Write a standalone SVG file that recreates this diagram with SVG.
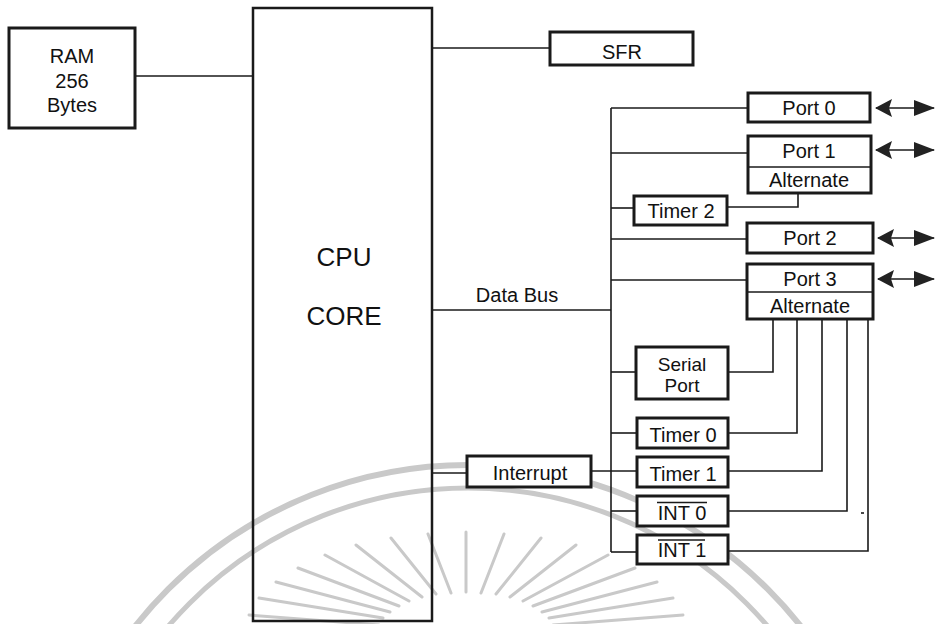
<svg xmlns="http://www.w3.org/2000/svg" width="935" height="624" viewBox="0 0 935 624">
  <style>
    text { font-family: "Liberation Sans", Arial, sans-serif; font-size: 20px; fill: #111; text-anchor: middle; }
    .big { font-size: 26px; }
    .tight { font-size: 19px; }
    .box { fill: #fff; stroke: #1a1a1a; stroke-width: 3; }
    .core { fill: none; stroke: #1a1a1a; stroke-width: 2.5; }
    .wire { fill: none; stroke: #1a1a1a; stroke-width: 1.6; }
    .wm { fill: none; stroke: #c9c9c9; }
  </style>
  <defs>
    <marker id="headL" viewBox="0 0 17 18" refX="1" refY="9" markerWidth="17" markerHeight="18" markerUnits="userSpaceOnUse" orient="auto">
      <path d="M0,9 L17,0 L14,9 L17,18 Z" fill="#222"/>
    </marker>
    <marker id="headR" viewBox="0 0 21 16" refX="20" refY="8" markerWidth="21" markerHeight="16" markerUnits="userSpaceOnUse" orient="auto">
      <path d="M0,0 L21,8 L0,16 Z" fill="#222"/>
    </marker>
  </defs>

  <rect width="935" height="624" fill="#fff"/>

  <!-- background emblem: arcs and rays -->
  <g id="emblem">
    <circle class="wm" cx="468" cy="889" r="424" stroke-width="6"/>
    <circle class="wm" cx="468" cy="882" r="394" stroke-width="5"/>
    <g class="wm" stroke-width="3" stroke-linecap="round">
      <path d="M553,625 L683,615 M379,625 L249,615
               M549,618 L673,598 M383,618 L259,598
               M542,612 L657,582 M390,612 L276,582
               M533,606 L635,568 M399,606 L298,568
               M523,601 L608,555 M409,601 L325,555
               M510,597 L576,545 M422,597 L356,545
               M496,594 L541,538 M436,594 L391,538
               M481,593 L504,534 M451,593 L428,534
               M466,592 L466,532"/>
    </g>
  </g>

  <!-- connectors -->
  <g id="connectors">
    <path class="wire" d="M135,76 H253"/>
    <path class="wire" d="M432,48 H550"/>
    <path class="wire" d="M432,310 H611"/>
    <path class="wire" d="M611,108 V552"/>
    <path class="wire" d="M611,108 H748"/>
    <path class="wire" d="M611,153 H748"/>
    <path class="wire" d="M611,208 H634"/>
    <path class="wire" d="M727,207 H798 V193"/>
    <path class="wire" d="M611,239 H747"/>
    <path class="wire" d="M611,280 H747"/>
    <path class="wire" d="M611,372 H636"/>
    <path class="wire" d="M728,372 H773 V319"/>
    <path class="wire" d="M611,433 H637"/>
    <path class="wire" d="M728,433 H797 V319"/>
    <path class="wire" d="M432,473 H467"/>
    <path class="wire" d="M591,471 H637"/>
    <path class="wire" d="M728,471 H822 V319"/>
    <path class="wire" d="M611,511 H637"/>
    <path class="wire" d="M728,511 H847 V319"/>
    <path class="wire" d="M611,552 H637"/>
    <path class="wire" d="M728,551 H868 V319"/>
    <path class="wire" d="M861,513 H864" stroke-width="2"/>
    <!-- bidirectional port pins -->
    <path class="wire" d="M876,108 H934" marker-start="url(#headL)" marker-end="url(#headR)"/>
    <path class="wire" d="M876,150 H934" marker-start="url(#headL)" marker-end="url(#headR)"/>
    <path class="wire" d="M878,238 H934" marker-start="url(#headL)" marker-end="url(#headR)"/>
    <path class="wire" d="M878,279 H934" marker-start="url(#headL)" marker-end="url(#headR)"/>
  </g>

  <g id="ram">
    <rect class="box" x="9" y="28" width="126" height="100"/>
    <text x="72" y="63">RAM</text>
    <text x="72" y="88">256</text>
    <text x="72" y="112">Bytes</text>
  </g>

  <g id="cpu">
    <rect class="core" x="253" y="8" width="179" height="613"/>
    <text class="big" x="344" y="266">CPU</text>
    <text class="big" x="344" y="325">CORE</text>
  </g>

  <g id="databus-label">
    <text x="517" y="302">Data Bus</text>
  </g>

  <g id="sfr">
    <rect class="box" x="550" y="32" width="143" height="33"/>
    <text x="622" y="59">SFR</text>
  </g>

  <g id="port0">
    <rect class="box" x="748" y="93" width="122" height="29"/>
    <text x="809" y="115">Port 0</text>
  </g>

  <g id="port1">
    <rect class="box" x="748" y="136" width="123" height="57"/>
    <path class="wire" d="M748,167 H871" stroke-width="2.5"/>
    <text x="809" y="158">Port 1</text>
    <text x="809" y="187">Alternate</text>
  </g>

  <g id="timer2">
    <rect class="box" x="634" y="196" width="93" height="29"/>
    <text x="681" y="218">Timer 2</text>
  </g>

  <g id="port2">
    <rect class="box" x="747" y="223" width="126" height="30"/>
    <text x="810" y="245">Port 2</text>
  </g>

  <g id="port3">
    <rect class="box" x="747" y="264" width="126" height="55"/>
    <path class="wire" d="M747,292 H873" stroke-width="2.5"/>
    <text x="810" y="286">Port 3</text>
    <text x="810" y="313">Alternate</text>
  </g>

  <g id="serial">
    <rect class="box" x="636" y="347" width="92" height="52"/>
    <text class="tight" x="682" y="371">Serial</text>
    <text class="tight" x="682" y="392">Port</text>
  </g>

  <g id="timer0">
    <rect class="box" x="637" y="418" width="91" height="30"/>
    <text x="683" y="442">Timer 0</text>
  </g>

  <g id="interrupt">
    <rect class="box" x="467" y="456" width="124" height="31"/>
    <text x="530" y="480">Interrupt</text>
  </g>

  <g id="timer1">
    <rect class="box" x="637" y="457" width="91" height="30"/>
    <text x="683" y="481">Timer 1</text>
  </g>

  <g id="int0">
    <rect class="box" x="637" y="496" width="91" height="30"/>
    <text x="682" y="520">INT 0</text>
    <path class="wire" d="M657,502.5 H707" stroke-width="1.5"/>
  </g>

  <g id="int1">
    <rect class="box" x="637" y="535" width="91" height="29"/>
    <text x="682" y="557">INT 1</text>
    <path class="wire" d="M658,540 H705" stroke-width="1.5"/>
  </g>
</svg>
